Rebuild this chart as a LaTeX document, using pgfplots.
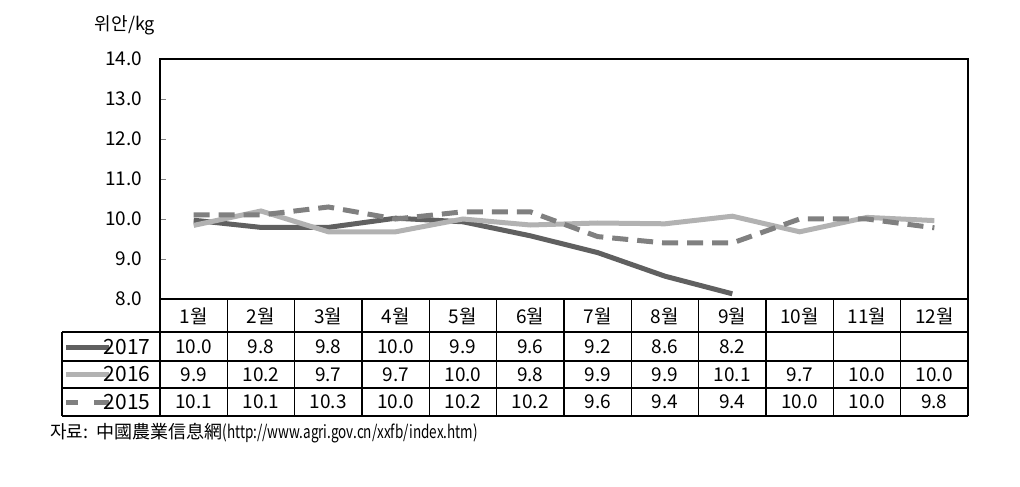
\documentclass[border=0pt]{standalone}
\usepackage{fontspec}
\setmainfont{Noto Sans CJK KR}
\usepackage{pgfplots}
\pgfplotsset{compat=1.18}
\definecolor{c17}{RGB}{96,96,96}
\definecolor{c16}{RGB}{178,178,178}
\definecolor{c15}{RGB}{128,128,128}
\pgfplotstableread{
x y
1 9.97
2 9.79
3 9.79
4 10.02
5 9.93
6 9.58
7 9.16
8 8.57
9 8.13
}\dataA
\pgfplotstableread{
x y
1 9.84
2 10.20
3 9.68
4 9.68
5 10.00
6 9.85
7 9.90
8 9.88
9 10.07
10 9.68
11 10.04
12 9.96
}\dataB
\pgfplotstableread{
x y
1 10.10
2 10.10
3 10.30
4 10.00
5 10.18
6 10.18
7 9.56
8 9.40
9 9.40
10 10.00
11 10.00
12 9.78
}\dataC
\begin{document}
\fontsize{9.5}{11}\selectfont
\begin{tikzpicture}
\useasboundingbox (-80pt,-93.5pt) rectangle (430pt,149.5pt);
\begin{axis}[
  scale only axis, width=404pt, height=120pt,
  xmin=0.5, xmax=12.5, ymin=8, ymax=14,
  xtick=\empty, ytick={8,9,...,14}, ytick pos=left,
  tick align=inside, major tick length=3pt,
  yticklabel style={/pgf/number format/.cd, fixed, fixed zerofill, precision=1, assume math mode=true},
  tick label style={font=\fontsize{9.5}{11}\selectfont, xshift=-5.5pt},
  axis line style={black, line width=1pt},
  clip=false,
]
\addplot[c17, line width=2.5pt] table[x=x,y=y]{\dataA};
\addplot[c16, line width=2.5pt] table[x=x,y=y]{\dataB};
\addplot[c15, line width=2.5pt, dash pattern=on 8pt off 4.5pt] table[x=x,y=y]{\dataC};

% table grid
\draw[black, line width=1pt] (axis cs:0.5,8) -- (axis cs:12.5,8);
\draw[black, line width=1pt] (axis cs:-0.955,7.175) -- (axis cs:12.5,7.175);
\draw[black, line width=1pt] (axis cs:-0.955,6.45) -- (axis cs:12.5,6.45);
\draw[black, line width=1pt] (axis cs:-0.955,5.775) -- (axis cs:12.5,5.775);
\draw[black, line width=1pt] (axis cs:-0.955,5.075) -- (axis cs:12.5,5.075);
\draw[black, line width=1pt] (axis cs:-0.955,7.175) -- (axis cs:-0.955,5.075);
\draw[black, line width=1pt] (axis cs:0.5,8) -- (axis cs:0.5,5.075);
\draw[black, line width=1pt] (axis cs:12.5,8) -- (axis cs:12.5,5.075);
\pgfplotsinvokeforeach{1.5,2.5,3.5,4.5,5.5,6.5,7.5,8.5,9.5,10.5,11.5}{
  \draw[black, line width=0.8pt] (axis cs:#1,8) -- (axis cs:#1,5.075);
}
\pgfplotsinvokeforeach{1,...,12}{
  \node at (axis cs:#1,7.575) {#1월};
}
% legend samples
\draw[c17, line width=2.5pt] (axis cs:-0.896,6.8) -- (axis cs:-0.26,6.8);
\draw[c16, line width=2.5pt] (axis cs:-0.896,6.1125) -- (axis cs:-0.26,6.1125);
\draw[c15, line width=2.5pt, dash pattern=on 6pt off 8pt on 9pt] (axis cs:-0.896,5.425) -- (axis cs:-0.26,5.425);
\node[anchor=east, font=\fontsize{10.5}{12}\selectfont] at (axis cs:0.46,6.8) {2017};
\node[anchor=east, font=\fontsize{10.5}{12}\selectfont] at (axis cs:0.46,6.1125) {2016};
\node[anchor=east, font=\fontsize{10.5}{12}\selectfont] at (axis cs:0.46,5.425) {2015};
% values 2017
\node at (axis cs:1,6.8) {10.0};
\node at (axis cs:2,6.8) {9.8};
\node at (axis cs:3,6.8) {9.8};
\node at (axis cs:4,6.8) {10.0};
\node at (axis cs:5,6.8) {9.9};
\node at (axis cs:6,6.8) {9.6};
\node at (axis cs:7,6.8) {9.2};
\node at (axis cs:8,6.8) {8.6};
\node at (axis cs:9,6.8) {8.2};
% values 2016
\node at (axis cs:1,6.1125) {9.9};
\node at (axis cs:2,6.1125) {10.2};
\node at (axis cs:3,6.1125) {9.7};
\node at (axis cs:4,6.1125) {9.7};
\node at (axis cs:5,6.1125) {10.0};
\node at (axis cs:6,6.1125) {9.8};
\node at (axis cs:7,6.1125) {9.9};
\node at (axis cs:8,6.1125) {9.9};
\node at (axis cs:9,6.1125) {10.1};
\node at (axis cs:10,6.1125) {9.7};
\node at (axis cs:11,6.1125) {10.0};
\node at (axis cs:12,6.1125) {10.0};
% values 2015
\node at (axis cs:1,5.425) {10.1};
\node at (axis cs:2,5.425) {10.1};
\node at (axis cs:3,5.425) {10.3};
\node at (axis cs:4,5.425) {10.0};
\node at (axis cs:5,5.425) {10.2};
\node at (axis cs:6,5.425) {10.2};
\node at (axis cs:7,5.425) {9.6};
\node at (axis cs:8,5.425) {9.4};
\node at (axis cs:9,5.425) {9.4};
\node at (axis cs:10,5.425) {10.0};
\node at (axis cs:11,5.425) {10.0};
\node at (axis cs:12,5.425) {9.8};
% unit and source
\node[font=\fontsize{9}{11}\selectfont] at (axis cs:-0.02,14.85) {위안/kg};
\node[anchor=west, inner sep=0pt, font=\fontsize{9}{11}\selectfont] at (axis cs:-1.134,4.65) {자료:\ \ 中國農業信息網\scalebox{0.75}[1]{(http://www.agri.gov.cn/xxfb/index.htm)}};
\end{axis}
\end{tikzpicture}
\end{document}
